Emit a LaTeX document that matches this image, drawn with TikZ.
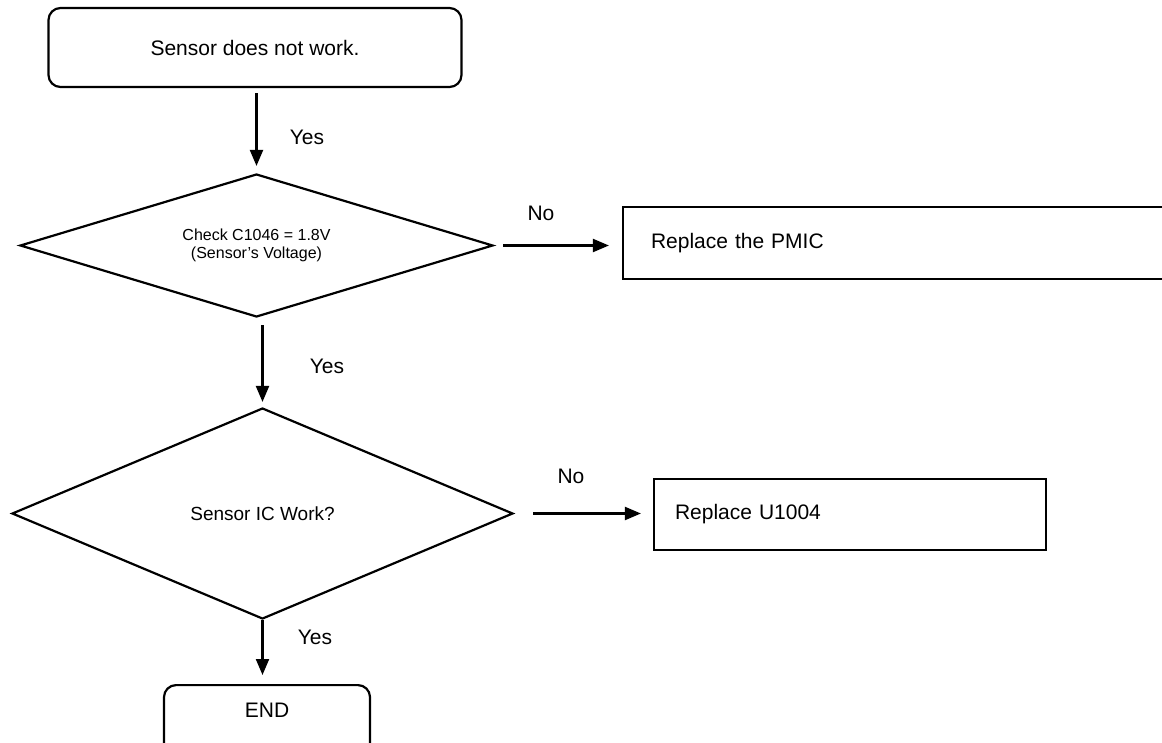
\documentclass[tikz,border=0pt]{standalone}
\usepackage{fontspec}
\setmainfont{Liberation Sans}
\usetikzlibrary{shapes.geometric,arrows.meta}
\tikzset{
  rbox/.style={draw, line width=2.2pt, rounded corners=12pt, inner sep=0pt, font=\fontsize{21}{25}\selectfont},
  box/.style={draw, line width=2.2pt, align=left, inner ysep=0pt, font=\fontsize{21}{25}\selectfont},
  decision/.style={draw, diamond, line width=2.2pt, inner sep=0pt, align=center},
  arr/.style={line width=2.2pt, -{Triangle[length=16pt,width=13pt]}},
  lbl/.style={font=\fontsize{21}{25}\selectfont}
}
\begin{document}
\begin{tikzpicture}[x=1pt, y=-1pt]
    \useasboundingbox (0,0) rectangle (1162,742);
        \node[rbox, minimum width=413, minimum height=79] (start) at (255, 47.5) {Sensor does not work.};
        \node[decision, aspect=3.3, minimum width=473, minimum height=143, font=\fontsize{16}{18}\selectfont] (d1) at (256.5, 245.5) {Check C1046 = 1.8V\\(Sensor’s Voltage)};
        \node[box, text width=491, inner xsep=28, minimum height=72] (pmic) at (896.5, 243) {Replace the PMIC};
        \node[decision, aspect=2.4, minimum width=501, minimum height=211, font=\fontsize{19}{23}\selectfont] (d2) at (262.5, 513.5) {Sensor IC Work?};
        \node[box, text width=350, inner xsep=21, minimum height=71] (u1004) at (850, 514.5) {Replace U1004};
        \node[rbox, minimum width=206, anchor=north, text height=32, text depth=40] (end) at (267, 684) {END};
        \node[lbl] (y1) at (307, 137) {Yes};
        \node[lbl] (n1) at (541, 213) {No};
        \node[lbl] (y2) at (327, 366) {Yes};
        \node[lbl] (n2) at (571, 476) {No};
        \node[lbl] (y3) at (315, 637) {Yes};
        \draw[arr, shorten <=5pt, shorten >=7pt] (d1.north |- start.south) -- (d1.north);
        \draw[arr, shorten <=9pt, shorten >=13pt] (d1.east) -- (pmic.west |- d1.east);
        \draw[arr, shorten <=7pt, shorten >=5pt] (d2.north |- d1.south) -- (d2.north);
        \draw[arr, shorten <=19pt, shorten >=12pt] (d2.east) -- (u1004.west |- d2.east);
        \draw[arr, shorten >=9pt] (d2.south) -- (d2.south |- end.north);
    \end{tikzpicture}
\end{document}
